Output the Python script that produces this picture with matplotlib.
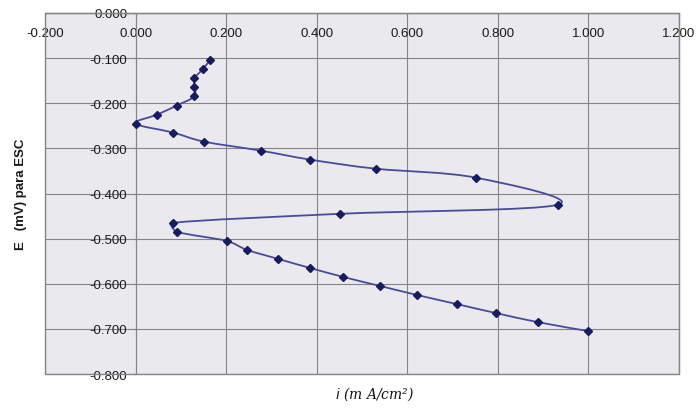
import matplotlib
matplotlib.use("Agg")
import matplotlib.pyplot as plt
import numpy as np
from matplotlib.path import Path
from matplotlib.patches import PathPatch

plt.rcParams['font.family'] = ['Liberation Sans', 'DejaVu Sans']

# current density i (mA/cm2)
current = [0.164, 0.148, 0.130, 0.130, 0.130, 0.091, 0.048, 0.000, 0.083, 0.151,
           0.276, 0.386, 0.530, 0.752, 0.932, 0.452, 0.083, 0.092, 0.201, 0.246,
           0.315, 0.385, 0.459, 0.540, 0.622, 0.709, 0.796, 0.888, 1.000]
# potential E (V vs SCE)
potential = [-0.105, -0.125, -0.145, -0.165, -0.185, -0.205, -0.225, -0.245, -0.265, -0.285,
             -0.305, -0.325, -0.345, -0.365, -0.425, -0.445, -0.465, -0.485, -0.505, -0.525,
             -0.545, -0.565, -0.585, -0.605, -0.625, -0.645, -0.665, -0.685, -0.705]

x_ticks = [-0.2, 0.0, 0.2, 0.4, 0.6, 0.8, 1.0, 1.2]
y_ticks = [0.0, -0.1, -0.2, -0.3, -0.4, -0.5, -0.6, -0.7, -0.8]

fig = plt.figure(figsize=(6.97, 4.10), dpi=100)
fig.patch.set_facecolor('#ffffff')
ax = fig.add_axes([45/697, 1 - 375/410, (679-45)/697, (375-14)/410])
ax.set_facecolor('#eaeaee')

ax.set_xlim(-0.2, 1.2)
ax.set_ylim(-0.8, 0.0)

# smoothed line (Excel-style cubic Bezier through the points, handles limited)
pts = np.column_stack([current, potential])
n = len(pts)
verts = [tuple(pts[0])]
codes = [Path.MOVETO]
t = 1/6


def handle(vec, seg_len):
    L = np.hypot(*vec)
    cap = 0.45 * seg_len
    if L > cap and L > 0:
        vec = vec * cap / L
    return vec


for i in range(n - 1):
    p0 = pts[i - 1] if i > 0 else pts[i]
    p1 = pts[i]
    p2 = pts[i + 1]
    p3 = pts[i + 2] if i + 2 < n else pts[i + 1]
    seg = np.hypot(*(p2 - p1))
    c1 = p1 + handle((p2 - p0) * t, seg)
    c2 = p2 - handle((p3 - p1) * t, seg)
    verts += [tuple(c1), tuple(c2), tuple(p2)]
    codes += [Path.CURVE4] * 3
ax.add_patch(PathPatch(Path(verts, codes), facecolor='none', edgecolor='#4a4a98', lw=1.3, zorder=3))
ax.plot(current, potential, linestyle='none', marker='D', markersize=4.2,
        color='#1a1a5e', zorder=4)

ax.set_xticks(x_ticks)
ax.set_yticks(y_ticks)
ax.set_xticklabels([f"{v:.3f}" for v in x_ticks])
ax.set_yticklabels([f"{v:.3f}" if v != 0 else "0.000" for v in y_ticks])
ax.grid(True, color='#858585', lw=0.8)
ax.set_axisbelow(True)

for s in ['top', 'right']:
    ax.spines[s].set_color('#858585')
ax.spines['left'].set_position(('data', 0.0))
ax.spines['bottom'].set_position(('data', 0.0))
ax.spines['left'].set_color('#858585')
ax.spines['bottom'].set_color('#858585')
# outer frame
ax.add_patch(plt.Rectangle((0, 0), 1, 1, transform=ax.transAxes, fill=False,
                           edgecolor='#858585', lw=1.0, zorder=5, clip_on=False))
ax.tick_params(axis='both', length=3, color='#858585', labelsize=9.5, labelcolor='#1a1a1a')
ax.tick_params(axis='x', pad=7)
ax.tick_params(axis='y', pad=3)

fig.text(21/697, 1 - 194/410, "E   (mV) para ESC", rotation=90, ha='center', va='center',
         fontsize=9.5, fontweight='bold', color='#1a1a1a')
fig.text(375/697, 1 - 394/410, r"$i$ (m A/cm²)", ha='center', va='center',
         fontsize=10, style='italic', family=['DejaVu Serif'], color='#111111')

fig.savefig('out.png', dpi=100)
